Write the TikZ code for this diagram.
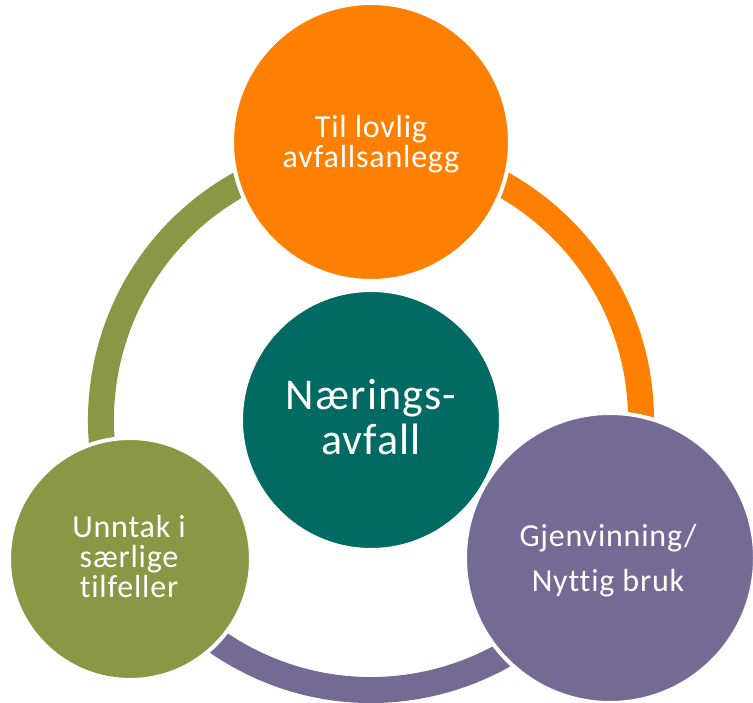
\documentclass[tikz,border=0pt]{standalone}
\usepackage{fontspec}
\setmainfont{Carlito}[Ligatures=CommonOff, LetterSpace=2.5]
\usetikzlibrary{calc}
\definecolor{cOrange}{HTML}{FF8000}
\definecolor{cTeal}{HTML}{006A63}
\definecolor{cGreen}{HTML}{8A9846}
\definecolor{cPurple}{HTML}{736B94}
\begin{document}
\begin{tikzpicture}[x=1pt,y=1pt,
  ringarc/.style={line width=26pt},
  bubble/.style={circle, draw=white, line width=4pt, inner sep=0pt},
  lbl/.style={text=white, align=center, inner sep=0pt, font=\fontsize{32pt}{30pt}\selectfont},
  biglbl/.style={text=white, align=center, inner sep=0pt, font=\fontsize{44pt}{45pt}\selectfont}]
\useasboundingbox (0,0) rectangle (753,703);
\clip (0,0) rectangle (753,703);
\coordinate (c) at (371,283);
\draw[ringarc, cOrange] (c) ++(90:270pt) arc[start angle=90, end angle=-30, radius=270pt];
\draw[ringarc, cPurple] (c) ++(-30:270pt) arc[start angle=-30, end angle=-150, radius=270pt];
\draw[ringarc, cGreen] (c) ++(210:270pt) arc[start angle=210, end angle=90, radius=270pt];
\node[bubble, fill=cOrange, minimum size=278pt] (top) at (371,561) {};
\node[bubble, fill=cTeal, minimum size=260pt] (mid) at (371,283) {};
\node[bubble, fill=cGreen, minimum size=242pt] (left) at (130,144) {};
\node[bubble, fill=cPurple, minimum size=290pt] (right) at (610,145) {};
\node[lbl] (ttop) at (371,558.75) {Til lovlig\\avfallsanlegg};
\node[biglbl] (tmid) at (371,285.5) {Nærings-\\avfall};
\node[lbl] (tleft) at (129,146.7) {Unntak i\\særlige\\tilfeller};
\node[lbl] (tright) at (608,142.75) {Gjenvinning/\\[15pt]Nyttig bruk};
\end{tikzpicture}
\end{document}
